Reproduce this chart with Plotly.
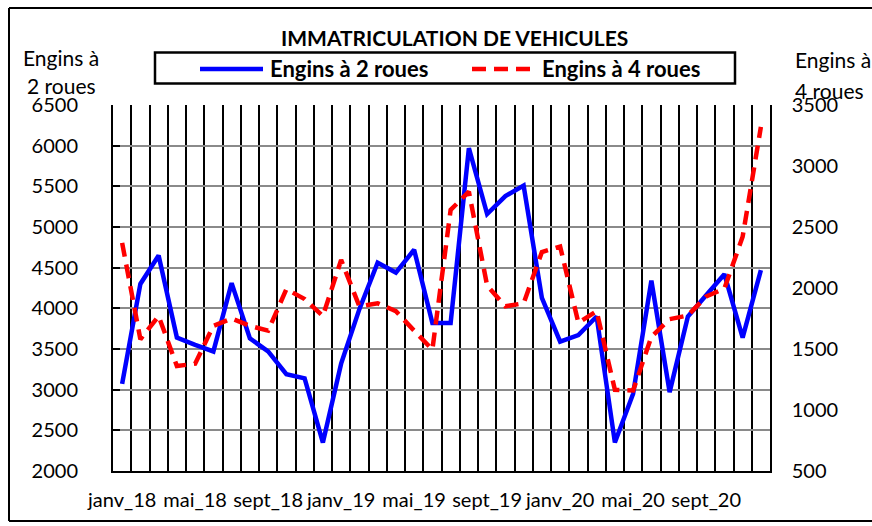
import plotly.graph_objects as go

# Monthly registrations, Jan 2018 - Dec 2020
months = [
    "janv_18", "févr_18", "mars_18", "avr_18", "mai_18", "juin_18",
    "juil_18", "août_18", "sept_18", "oct_18", "nov_18", "déc_18",
    "janv_19", "févr_19", "mars_19", "avr_19", "mai_19", "juin_19",
    "juil_19", "août_19", "sept_19", "oct_19", "nov_19", "déc_19",
    "janv_20", "févr_20", "mars_20", "avr_20", "mai_20", "juin_20",
    "juil_20", "août_20", "sept_20", "oct_20", "nov_20", "déc_20",
]
deux_roues = [
    3070, 4300, 4650, 3640, 3550, 3470, 4310, 3630, 3470, 3190, 3140, 2350,
    3320, 3990, 4560, 4440, 4720, 3820, 3820, 5970, 5160, 5380, 5510, 4130,
    3590, 3670, 3900, 2350, 2950, 4340, 2970, 3900, 4160, 4420, 3640, 4470,
]
quatre_roues = [
    2370, 1580, 1770, 1360, 1380, 1690, 1750, 1690, 1650, 1990, 1910, 1770,
    2230, 1850, 1875, 1810, 1650, 1495, 2640, 2790, 2020, 1850, 1875, 2295,
    2340, 1715, 1810, 1165, 1160, 1600, 1745, 1775, 1930, 1995, 2420, 3320,
]
label_step = 4

# Canvas and plot-area geometry (pixels)
W, H = 872, 526
ML, MR, MT, MB = 113, 102, 105, 55
PW, PH = W - ML - MR, H - MT - MB


def px(x):
    return (x - ML) / PW


def py(y):
    return (H - MB - y) / PH


FONT = "Lato, 'Open Sans', sans-serif"
idx = list(range(len(months)))

fig = go.Figure()
fig.add_trace(go.Scatter(
    x=idx, y=deux_roues, mode="lines", name="Engins à 2 roues",
    line=dict(color="#0000ff", width=4.5), yaxis="y", showlegend=False,
))
fig.add_trace(go.Scatter(
    x=idx, y=quatre_roues, mode="lines", name="Engins à 4 roues",
    line=dict(color="#ff0000", width=4.5, dash="14px,8px"), yaxis="y2",
    showlegend=False,
))

fig.update_layout(
    width=W, height=H,
    margin=dict(l=ML, r=MR, t=MT, b=MB, pad=0),
    paper_bgcolor="white", plot_bgcolor="white",
    font=dict(family=FONT, size=20, color="black"),
    xaxis=dict(
        range=[-0.5, len(months) - 0.5],
        tickmode="array",
        tickvals=idx[::label_step],
        ticktext=months[::label_step],
        ticks="", showgrid=False, zeroline=False,
        showline=True, linecolor="black", linewidth=2,
        ticklabelstandoff=10,
        tickfont=dict(size=20),
        minor=dict(tickmode="linear", tick0=-0.5, dtick=1, showgrid=True,
                   gridcolor="black", gridwidth=1.5, ticks=""),
    ),
    yaxis=dict(
        range=[2000, 6500], tick0=2000, dtick=500,
        showgrid=True, gridcolor="#8a8a8a", gridwidth=1.5, zeroline=False,
        showline=True, linecolor="black", linewidth=2,
        ticks="inside", ticklen=7, tickcolor="black", tickwidth=1.5,
        ticklabelstandoff=29, tickfont=dict(size=20),
    ),
    yaxis2=dict(
        range=[500, 3500], tick0=500, dtick=500, overlaying="y", side="right",
        showgrid=False, zeroline=False,
        showline=True, linecolor="black", linewidth=1.5,
        ticks="", ticklabelstandoff=16, tickfont=dict(size=20),
    ),
)

frame = dict(xref="paper", yref="paper", type="line",
             line=dict(color="black", width=2))
shapes = [
    # outer frame: left, top and bottom edges (open on the right)
    dict(frame, x0=px(9), x1=px(9), y0=py(521), y1=py(8)),
    dict(frame, x0=px(9), x1=px(W + 20), y0=py(8), y1=py(8)),
    dict(frame, x0=px(9), x1=px(W + 20), y0=py(521), y1=py(521)),
    # legend box
    dict(type="rect", xref="paper", yref="paper",
         x0=px(155), x1=px(735), y0=py(83.5), y1=py(52.5),
         line=dict(color="black", width=2.5), fillcolor="white"),
    dict(type="line", xref="paper", yref="paper",
         x0=px(200), x1=px(263), y0=py(69), y1=py(69),
         line=dict(color="#0000ff", width=4.5)),
    dict(type="line", xref="paper", yref="paper",
         x0=px(472), x1=px(530), y0=py(69), y1=py(69),
         line=dict(color="#ff0000", width=4.5, dash="14px,8px")),
]
fig.update_layout(shapes=shapes)

annotations = [
    dict(text="<b>IMMATRICULATION DE VEHICULES</b>", x=px(454), y=py(38),
         xanchor="center", yanchor="middle", font=dict(size=21)),
    dict(text="<b>Engins à 2 roues</b>", x=px(268), y=py(68.5),
         xanchor="left", yanchor="middle", font=dict(size=22)),
    dict(text="<b>Engins à 4 roues</b>", x=px(540), y=py(68.5),
         xanchor="left", yanchor="middle", font=dict(size=22)),
    dict(text="Engins à", x=px(60.5), y=py(58),
         xanchor="center", yanchor="middle", font=dict(size=21)),
    dict(text="2 roues", x=px(61), y=py(85.5),
         xanchor="center", yanchor="middle", font=dict(size=21)),
    dict(text="Engins à", x=px(793), y=py(60),
         xanchor="left", yanchor="middle", font=dict(size=21)),
    dict(text="4 roues", x=px(793), y=py(90),
         xanchor="left", yanchor="middle", font=dict(size=21)),
]
for a in annotations:
    a.update(xref="paper", yref="paper", showarrow=False)
fig.update_layout(annotations=annotations)

fig.write_html("out.html")
